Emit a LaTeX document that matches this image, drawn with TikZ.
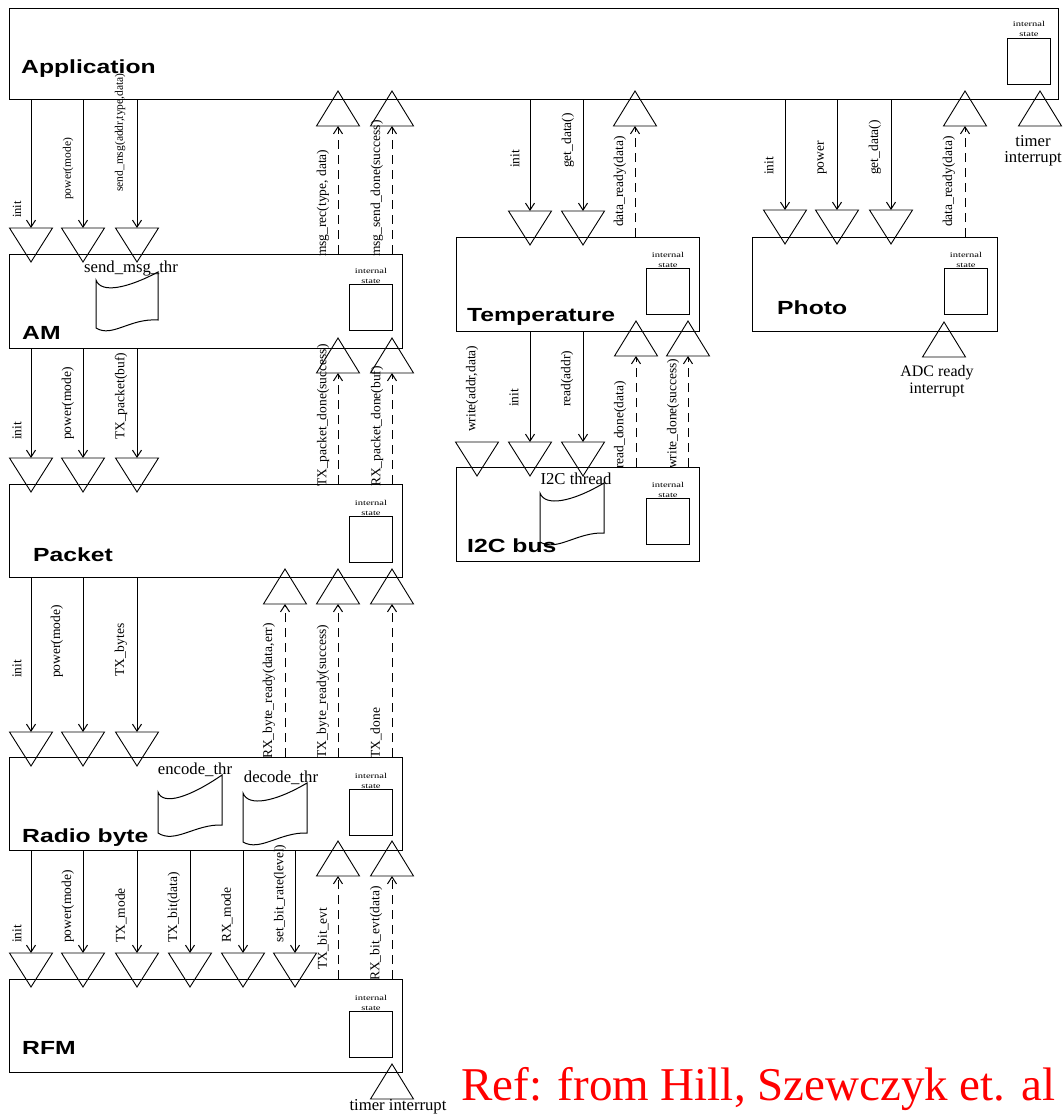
\documentclass[tikz,border=0pt]{standalone}
\usepackage{fontspec}
\setmainfont{Liberation Serif}
\setsansfont{Liberation Sans}
\usetikzlibrary{arrows.meta}
\begin{document}
\begin{tikzpicture}[x=1pt,y=-1pt,
  box/.style={draw, line width=1.1pt, inner sep=0pt, anchor=north west},
  sbox/.style={draw, line width=1pt, inner sep=0pt, anchor=north west, minimum width=43pt, minimum height=46pt},
  tri/.style={line width=0.9pt},
  call/.style={line width=1pt, -{Straight Barb[length=7pt,width=9pt]}},
  ret/.style={line width=1pt, dash pattern=on 9pt off 6pt, -{Straight Barb[length=7pt,width=9pt]}},
  lbl/.style={font=\fontsize{13.5}{14}\selectfont, rotate=90, anchor=west, inner sep=0pt},
  slbl/.style={font=\fontsize{11.5}{12}\selectfont, rotate=90, anchor=west, inner sep=0pt},
  blab/.style={font=\sffamily\bfseries\fontsize{19}{20}\selectfont, anchor=base west, inner sep=0pt},
  istxt/.style={font=\fontsize{7.5}{8}\selectfont, anchor=base, inner sep=0pt},
  ttxt/.style={font=\fontsize{16.7}{17}\selectfont, anchor=base, inner sep=0pt},
  dtri/.pic={\draw[tri] (-21.5,0) -- (21.5,0) -- (0,34) -- cycle;},
  utri/.pic={\draw[tri] (-21.5,0) -- (21.5,0) -- (0,-35) -- cycle;}
]
\useasboundingbox (0,0) rectangle (1063,1115);

% main boxes
\node[box, minimum width=1049pt, minimum height=91pt] (app) at (9,8) {};
\node[box, minimum width=393pt, minimum height=94pt] (am) at (9,254) {};
\node[box, minimum width=393pt, minimum height=93pt] (packet) at (9,484) {};
\node[box, minimum width=393pt, minimum height=93pt] (radio) at (9,757) {};
\node[box, minimum width=393pt, minimum height=93pt] (rfm) at (9,979) {};
\node[box, minimum width=243pt, minimum height=94pt] (temp) at (456,237) {};
\node[box, minimum width=243pt, minimum height=94pt] (i2c) at (456,467) {};
\node[box, minimum width=245pt, minimum height=94pt] (photo) at (752,237) {};

% box labels
\node[blab] (tapp) at (21,74) {\scalebox{1.3}[1]{Application}};
\node[blab] (tam) at (22,339) {\scalebox{1.3}[1]{AM}};
\node[blab] (tpacket) at (33,561) {\scalebox{1.3}[1]{Packet}};
\node[blab] (tradio) at (22,842) {\scalebox{1.3}[1]{Radio byte}};
\node[blab] (trfm) at (22,1054) {\scalebox{1.3}[1]{RFM}};
\node[blab] (ttemp) at (467,321) {\scalebox{1.3}[1]{Temperature}};
\node[blab] (ti2c) at (467,552) {\scalebox{1.3}[1]{I2C bus}};
\node[blab] (tphoto) at (777,314) {\scalebox{1.3}[1]{Photo}};

% internal state boxes
\foreach \n/\x/\y in {isapp/1007/38, isam/349/284, ispacket/349/516, isradio/349/789,
  isrfm/349/1011, istemp/646/268, isi2c/646/498, isphoto/944/268}{
  \node[sbox] (\n) at (\x,\y) {};
  \node[istxt] (\n-a) at ([yshift=11pt]\n.north) {\scalebox{1.4}[1]{internal}};
  \node[istxt] (\n-b) at ([yshift=1pt]\n.north) {\scalebox{1.4}[1]{state}};
}

% thread shapes
\draw[line width=1pt] (96,280) .. controls (101,294) and (128,288) .. (158,272) -- (158,320)
  .. controls (130,318) and (112,338) .. (96,328) -- cycle;
\draw[line width=1pt] (158,792) .. controls (163,806) and (190,797) .. (222,775) -- (222,825)
  .. controls (195,824) and (175,844) .. (158,833) -- cycle;
\draw[line width=1pt] (243,793) .. controls (248,807) and (275,802) .. (307,783) -- (307,833)
  .. controls (280,832) and (260,852) .. (243,842) -- cycle;
\draw[line width=1pt] (540,493) .. controls (545,507) and (572,502) .. (604,483) -- (604,533)
  .. controls (577,532) and (557,552) .. (540,542) -- cycle;
\node[ttxt] (thr1) at (131,272) {send\_msg\_thr};
\node[ttxt] (thr2) at (195,774) {encode\_thr};
\node[ttxt] (thr3) at (281,782) {decode\_thr};
\node[ttxt] (thr4) at (576,484) {I2C thread};

% down triangles (command inputs)
\foreach \n/\x/\y in {a1/31/228, a2/83/228, a3/137/228,
  b1/31/458, b2/83/458, b3/137/458,
  c1/31/732, c2/83/732, c3/137/732,
  d1/31/953, d2/83/953, d3/137/953, d4/190/953, d5/243/953, d6/295/953,
  e1/530/211, e2/583/211,
  f0/477/442, f1/530/442, f2/583/442,
  g1/785/210, g2/837/210, g3/891/210}{
  \coordinate (\n) at (\x,\y);
  \pic at (\n) {dtri};
}
% up triangles (events)
\foreach \n/\x/\y in {ua1/338/126, ua2/392/126,
  ub1/338/373, ub2/392/373,
  uc0/285/604, uc1/338/604, uc2/392/604,
  ud1/338/876, ud2/392/876,
  ue/635/126, uf1/636/356, uf2/688/356, ug/965/126,
  ti1/1040/126, adc/944/357, ti2/392/1099}{
  \coordinate (\n) at (\x,\y);
  \pic at (\n) {utri};
}

% command arrows
\foreach \t in {a1,a2,a3,e1,e2,g1,g2,g3}{\draw[call] (app.south -| \t) -- (\t);}
\foreach \t in {b1,b2,b3}{\draw[call] (am.south -| \t) -- (\t);}
\foreach \t in {c1,c2,c3}{\draw[call] (packet.south -| \t) -- (\t);}
\foreach \t in {d1,d2,d3,d4,d5,d6}{\draw[call] (radio.south -| \t) -- (\t);}
\foreach \t in {f1,f2}{\draw[call] (temp.south -| \t) -- (\t);}

% event arrows
\foreach \t in {ua1,ua2}{\draw[ret] (am.north -| \t) -- (\t);}
\foreach \t in {ub1,ub2}{\draw[ret] (packet.north -| \t) -- (\t);}
\foreach \t in {uc0,uc1,uc2}{\draw[ret] (radio.north -| \t) -- (\t);}
\foreach \t in {ud1,ud2}{\draw[ret] (rfm.north -| \t) -- (\t);}
\draw[ret] (temp.north -| ue) -- (ue);
\foreach \t in {uf1,uf2}{\draw[ret] (i2c.north -| \t) -- (\t);}
\draw[ret] (photo.north -| ug) -- (ug);

% labels App -> AM
\node[lbl, font=\fontsize{12.5}{13}\selectfont] (la1) at (17,218) {init};
\node[slbl] (la2) at (68,200) {power(mode)};
\node[slbl] (la3) at (120,192) {send\_msg(addr,type,data)};
\node[lbl] (lua1) at (323,257) {msg\_rec(type, data)};
\node[lbl] (lua2) at (377,257) {msg\_send\_done(success)};
% AM -> Packet
\node[lbl] (lb1) at (17,440) {init};
\node[lbl] (lb2) at (68,440) {power(mode)};
\node[lbl] (lb3) at (121,440) {TX\_packet(buf)};
\node[lbl] (lub1) at (323,487) {TX\_packet\_done(success)};
\node[lbl] (lub2) at (377,487) {RX\_packet\_done(buf)};
% Packet -> Radio byte
\node[lbl] (lc1) at (17,678) {init};
\node[lbl] (lc2) at (57,678) {power(mode)};
\node[lbl] (lc3) at (121,677) {TX\_bytes};
\node[lbl] (luc0) at (269,759) {RX\_byte\_ready(data,err)};
\node[lbl] (luc1) at (323,759) {TX\_byte\_ready(success)};
\node[lbl] (luc2) at (376,759) {TX\_done};
% Radio byte -> RFM
\node[lbl] (ld1) at (17,943) {init};
\node[lbl] (ld2) at (68,943) {power(mode)};
\node[lbl] (ld3) at (121,943) {TX\_mode};
\node[lbl] (ld4) at (174,943) {TX\_bit(data)};
\node[lbl] (ld5) at (227,943) {RX\_mode};
\node[lbl] (ld6) at (280,943) {set\_bit\_rate(level)};
\node[lbl] (lud1) at (323,970) {TX\_bit\_evt};
\node[lbl] (lud2) at (376,981) {RX\_bit\_evt(data)};
% App -> Temperature
\node[lbl] (le1) at (515,168) {init};
\node[lbl] (le2) at (568,168) {get\_data()};
\node[lbl] (lue) at (620,227) {data\_ready(data)};
% Temperature -> I2C
\node[lbl] (lf0) at (472,432) {write(addr,data)};
\node[lbl] (lf1) at (514,407) {init};
\node[lbl] (lf2) at (567,407) {read(addr)};
\node[lbl] (luf1) at (620,469) {read\_done(data)};
\node[lbl] (luf2) at (673,469) {write\_done(success)};
% App -> Photo
\node[lbl] (lg1) at (769,175) {init};
\node[lbl] (lg2) at (822,175) {power};
\node[lbl] (lg3) at (875,175) {get\_data()};
\node[lbl] (lug) at (949,227) {data\_ready(data)};

% interrupt texts
\node[ttxt] (tti1a) at (1033,147) {timer};
\node[ttxt] (tti1b) at (1033,163) {interrupt};
\node[ttxt, font=\fontsize{16}{16}\selectfont] (tadca) at (937,376) {ADC ready};
\node[ttxt, font=\fontsize{16}{16}\selectfont] (tadcb) at (937,393) {interrupt};
\node[ttxt] (tti2) at (398,1110) {timer interrupt};

% reference
\node[font=\fontsize{47}{49}\selectfont, text=red, anchor=base west, inner sep=0pt] (ref) at (461,1100) {Ref: from Hill, Szewczyk et. al};
\end{tikzpicture}
\end{document}
